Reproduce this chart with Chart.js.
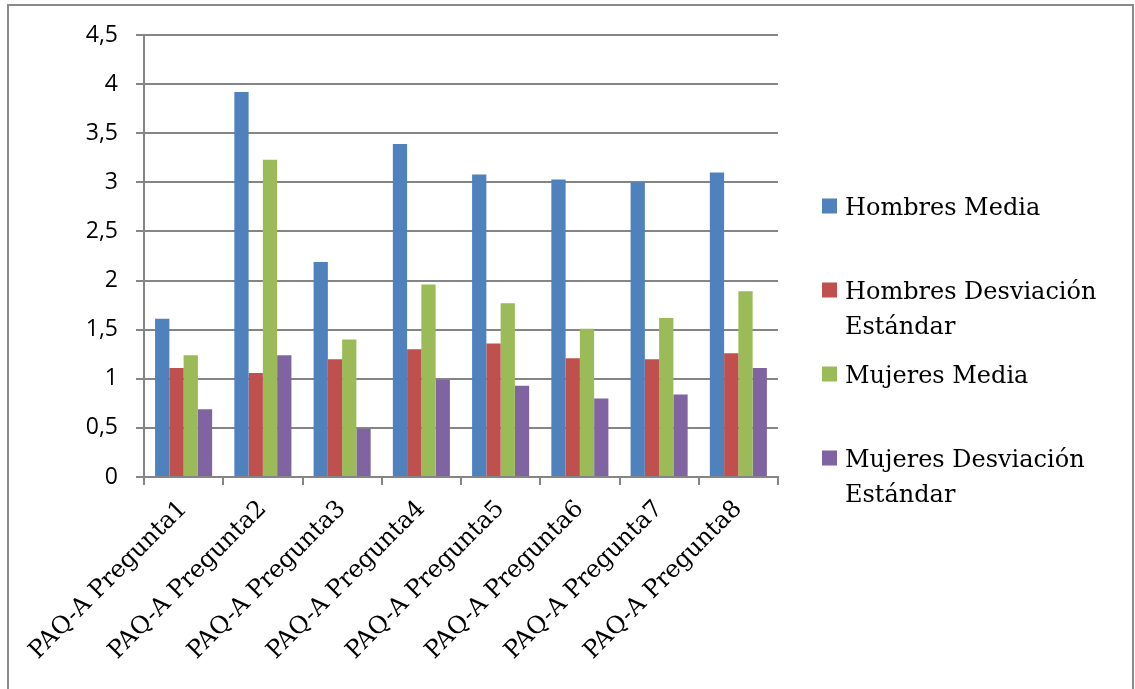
<!DOCTYPE html>
<html>
<head>
<meta charset="utf-8">
<script src="https://cdn.jsdelivr.net/npm/chart.js"></script>
<style>
  html, body { margin: 0; padding: 0; background: #ffffff; overflow: hidden; }
  canvas { display: block; }
</style>
</head>
<body>
<canvas id="chart" width="1135" height="689"></canvas>
<script>
// Categories (questions of the PAQ-A questionnaire)
const categories = [
  'PAQ-A Pregunta1', 'PAQ-A Pregunta2', 'PAQ-A Pregunta3', 'PAQ-A Pregunta4',
  'PAQ-A Pregunta5', 'PAQ-A Pregunta6', 'PAQ-A Pregunta7', 'PAQ-A Pregunta8'
];

// Series names
const seriesNames = [
  'Hombres Media',
  'Hombres Desviación Estándar',
  'Mujeres Media',
  'Mujeres Desviación Estándar'
];

// Series values
const hombresMedia       = [1.61, 3.92, 2.19, 3.39, 3.08, 3.03, 3.00, 3.10];
const hombresDesviacion  = [1.11, 1.06, 1.20, 1.30, 1.36, 1.21, 1.20, 1.26];
const mujeresMedia       = [1.24, 3.23, 1.40, 1.96, 1.77, 1.51, 1.62, 1.89];
const mujeresDesviacion  = [0.69, 1.24, 0.49, 0.99, 0.93, 0.80, 0.84, 1.11];

// Value axis ticks
const yMin = 0;
const yMax = 4.5;
const yStep = 0.5;

const seriesColors = ['#4F81BD', '#C0504D', '#9BBB59', '#8064A2'];
const seriesValues = [hombresMedia, hombresDesviacion, mujeresMedia, mujeresDesviacion];

const GRID = '#858585';

// White page with a thin grey frame
const framePlugin = {
  id: 'frame',
  beforeDraw(chart) {
    const ctx = chart.ctx;
    ctx.save();
    ctx.fillStyle = '#ffffff';
    ctx.fillRect(0, 0, chart.width, chart.height);
    ctx.strokeStyle = '#8a8a8a';
    ctx.lineWidth = 2;
    ctx.strokeRect(8, 5, chart.width - 10, chart.height + 40);
    ctx.restore();
  }
};

// Legend on the right, entries wrapped to the available width
const sideLegendPlugin = {
  id: 'sideLegend',
  afterDraw(chart) {
    const ctx = chart.ctx;
    const area = chart.chartArea;
    ctx.save();
    ctx.font = '24px "DejaVu Serif"';
    ctx.textBaseline = 'alphabetic';
    ctx.textAlign = 'left';
    const boxX = area.right + 44;
    const textX = area.right + 67;
    const maxW = chart.width - textX - 12;
    chart.data.datasets.forEach((ds, i) => {
      const base = 215 + i * 84;
      ctx.fillStyle = ds.backgroundColor;
      ctx.fillRect(boxX, base - 16.5, 15, 15);
      const words = ds.label.split(' ');
      const lines = [];
      let line = '';
      words.forEach(w => {
        const test = line ? line + ' ' + w : w;
        if (line && ctx.measureText(test).width > maxW) {
          lines.push(line);
          line = w;
        } else {
          line = test;
        }
      });
      if (line) lines.push(line);
      ctx.fillStyle = '#000000';
      lines.forEach((ln, j) => ctx.fillText(ln, textX, base + j * 35));
    });
    ctx.restore();
  }
};

new Chart(document.getElementById('chart'), {
  type: 'bar',
  data: {
    labels: categories,
    datasets: seriesNames.map((name, i) => ({
      label: name,
      data: seriesValues[i],
      backgroundColor: seriesColors[i],
      borderWidth: 0,
      categoryPercentage: 0.72,
      barPercentage: 1.0
    }))
  },
  options: {
    responsive: false,
    animation: false,
    devicePixelRatio: 1,
    layout: { padding: { left: 0, right: 357, top: 35, bottom: 0 } },
    plugins: {
      legend: { display: false },
      tooltip: { enabled: false }
    },
    scales: {
      x: {
        offset: true,
        grid: {
          offset: true,
          drawOnChartArea: false,
          drawTicks: true,
          tickLength: 8,
          color: GRID,
          lineWidth: 2
        },
        border: { display: true, color: GRID, width: 2 },
        ticks: {
          autoSkip: false,
          minRotation: 45,
          maxRotation: 45,
          padding: 10,
          color: '#000000',
          font: { family: '"DejaVu Serif"', size: 24 }
        },
        afterFit(scale) { scale.height = 212; }
      },
      y: {
        min: yMin,
        max: yMax,
        ticks: {
          stepSize: yStep,
          padding: 18,
          color: '#000000',
          font: { family: '"Open Sans"', size: 23 },
          callback: v => String(v).replace('.', ',')
        },
        grid: {
          color: GRID,
          lineWidth: 2,
          drawTicks: true,
          tickLength: 8
        },
        border: { display: true, color: GRID, width: 2 },
        afterFit(scale) { scale.width = 144; }
      }
    }
  },
  plugins: [framePlugin, sideLegendPlugin]
});
</script>
</body>
</html>
